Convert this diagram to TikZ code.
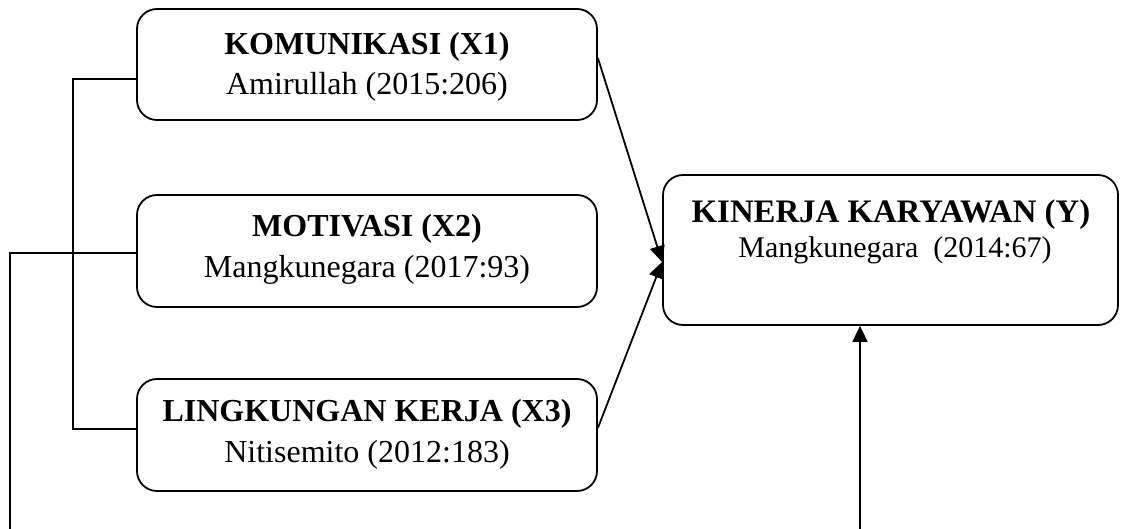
\documentclass[tikz,border=0pt]{standalone}
\usepackage{fontspec}
\setmainfont{Liberation Serif}
\usetikzlibrary{calc,arrows.meta}
\begin{document}
\begin{tikzpicture}[x=0.5pt,y=-0.5pt,
  box/.style={draw,line width=0.9pt,rounded corners=10pt,minimum width=230pt,inner sep=0pt},
  ttl/.style={anchor=base,font=\fontsize{16}{19}\selectfont\bfseries,inner sep=0pt},
  ttly/.style={anchor=base,font=\fontsize{16.4}{19}\selectfont\bfseries,inner sep=0pt},
  sub/.style={anchor=base,font=\fontsize{16}{19}\selectfont,inner sep=0pt},
  subs/.style={anchor=base,font=\fontsize{15}{18}\selectfont,inner sep=0pt},
  conn/.style={line width=0.9pt},
  arr/.style={line width=0.9pt,-{Triangle[length=8pt,width=7.5pt]}}]
\useasboundingbox (0,0) rectangle (1131,529);
% boxes
\node[box,minimum height=55.5pt] (x1) at (367,64.5) {};
\node[box,minimum height=56pt] (x2) at (367,251) {};
\node[box,minimum height=56pt] (x3) at (367,435) {};
\node[box,minimum width=227.5pt,minimum height=75pt] (y) at (890.5,250) {};
% texts
\node[ttl] (t1) at (367,55) {KOMUNIKASI (X1)};
\node[sub] (s1) at (367,95) {Amirullah (2015:206)};
\node[ttl] (t2) at (367,237) {MOTIVASI (X2)};
\node[sub] (s2) at (367,278) {Mangkunegara (2017:93)};
\node[ttl] (t3) at (367,422) {LINGKUNGAN KERJA (X3)};
\node[sub] (s3) at (367,463) {Nitisemito (2012:183)};
\node[ttly] (ty) at (891,223) {KINERJA KARYAWAN (Y)};
\node[subs] (sy) at (895,258) {Mangkunegara\ \ (2014:67)};
% free ends
\coordinate (k1) at (73,79);
\coordinate (k3) at (73,429);
\coordinate (k2) at (10,253);
\coordinate (b1) at (10,529);
\coordinate (b2) at (860,529);
% connectors
\draw[conn] ($(x1.west)+(0,14.5)$) -- (k1) -- (k3) -- ($(x3.west)+(0,-6)$);
\draw[conn] ($(x2.west)+(0,2)$) -- (k2) -- (b1);
\draw[arr] ($(x1.east)+(0,-6.5)$) -- ($(y.west)+(0,12)$);
\draw[arr] ($(x3.east)+(0,-7)$) -- ($(y.west)+(0,12)$);
\draw[arr] (b2) -- (b2 |- y.south);
\end{tikzpicture}
\end{document}
